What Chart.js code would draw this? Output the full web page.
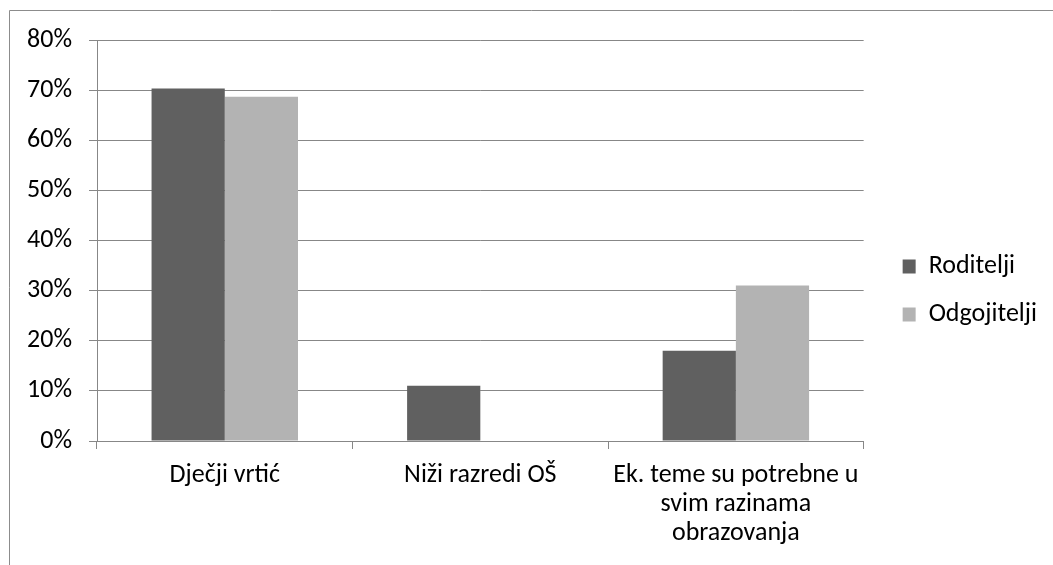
<!DOCTYPE html>
<html>
<head>
<meta charset="utf-8">
<script src="https://cdn.jsdelivr.net/npm/chart.js@4.4.1/dist/chart.umd.min.js"></script>
<style>
  html, body { margin: 0; padding: 0; background: #fff; }
  #wrap { width: 1053px; height: 565px; position: relative; }
</style>
</head>
<body>
<div id="wrap"><canvas id="myChart"></canvas></div>
<script>
const categories = ["Dječji vrtić", "Niži razredi OŠ", ["Ek. teme su potrebne u", "svim razinama", "obrazovanja"]];
const roditelji = [70.3, 11, 18];
const odgojitelji = [68.7, 0, 31];
const yTicks = [0, 10, 20, 30, 40, 50, 60, 70, 80];

const FONT = "Carlito, Calibri, Lato, sans-serif";
const GRID = "#878787";

// thin frame round the picture (top and left edges only are visible)
const framePlugin = {
  id: "frame",
  afterDraw(chart) {
    const c = chart.ctx;
    c.save();
    c.strokeStyle = "#8c8c8c";
    c.lineWidth = 1;
    c.beginPath();
    c.moveTo(9.5, 565);
    c.lineTo(9.5, 10.5);
    c.lineTo(1053, 10.5);
    c.stroke();
    c.restore();
  }
};

const ctx = document.getElementById("myChart").getContext("2d");

new Chart(ctx, {
  type: "bar",
  data: {
    labels: categories,
    datasets: [
      {
        label: "Roditelji",
        data: roditelji,
        backgroundColor: "#606060",
        categoryPercentage: 0.573,
        barPercentage: 1,
      },
      {
        label: "Odgojitelji",
        data: odgojitelji,
        backgroundColor: "#b3b3b3",
        categoryPercentage: 0.573,
        barPercentage: 1,
      },
    ],
  },
  options: {
    responsive: true,
    maintainAspectRatio: false,
    animation: false,
    layout: { padding: { top: 16, left: 0, right: 6, bottom: 0 } },
    plugins: {
      tooltip: { enabled: false },
      legend: {
        position: "right",
        labels: {
          boxWidth: 13,
          boxHeight: 14,
          padding: 22,
          color: "#000",
          font: { family: FONT, size: 26 },
        },
      },
    },
    scales: {
      x: {
        grid: { drawOnChartArea: false, drawTicks: true, tickLength: 8, color: GRID },
        border: { color: GRID },
        ticks: {
          color: "#000",
          padding: 12,
          maxRotation: 0,
          autoSkip: false,
          font: { family: FONT, size: 26, lineHeight: 1.12 },
        },
        afterFit(scale) { scale.height = 124; },
      },
      y: {
        min: 0,
        max: 80,
        afterBuildTicks(scale) { scale.ticks = yTicks.map(v => ({ value: v })); },
        grid: { color: GRID, tickLength: 8 },
        border: { color: GRID },
        ticks: {
          color: "#000",
          padding: 17,
          font: { family: FONT, size: 26 },
          callback: v => v + "%",
        },
        afterFit(scale) { scale.width = 97; },
      },
      // spacers so the plot area and legend sit where they do in the original
      gapTop: {
        type: "linear",
        position: "top",
        display: true,
        ticks: { display: false },
        grid: { display: false },
        border: { display: false },
        afterFit(scale) { scale.height = 24; },
      },
      gapRight: {
        type: "linear",
        position: "right",
        display: true,
        ticks: { display: false },
        grid: { display: false },
        border: { display: false },
        afterFit(scale) { scale.width = 17; },
      },
    },
  },
  plugins: [framePlugin],
});
</script>
</body>
</html>
